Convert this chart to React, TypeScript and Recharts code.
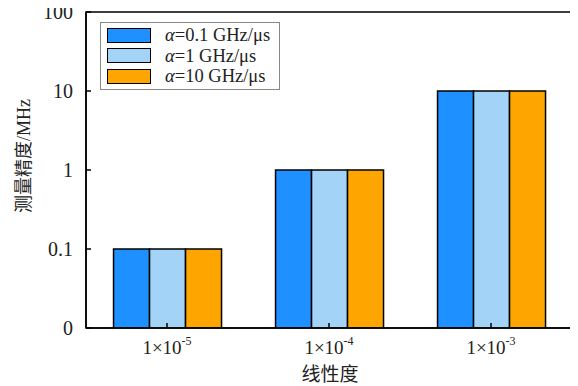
import React from 'react';
import { BarChart, Bar, XAxis, YAxis, ReferenceArea } from 'recharts';

const categories = ['-5', '-4', '-3'];
const slow = [0.1, 1, 10];
const mid = [0.1, 1, 10];
const fast = [0.1, 1, 10];
const yTicks = [0.01, 0.1, 1, 10, 100];

const seriesInfo = [
  { key: 'slow', label: '=0.1 GHz/μs', color: '#1E90FF' },
  { key: 'mid', label: '=1 GHz/μs', color: '#A3D3F6' },
  { key: 'fast', label: '=10 GHz/μs', color: '#FFA500' },
];

const data = categories.map((c, i) => ({ exp: c, slow: slow[i], mid: mid[i], fast: fast[i] }));

const FONT = '"Liberation Serif", "Noto Sans CJK SC", serif';

const XTick = (props: any) => {
  const { x, y, payload } = props;
  return (
    <g>
      <line x1={x} x2={x} y1={y} y2={y - 5} stroke="#000" strokeWidth={1.5} />
      <text x={x} y={y + 26} textAnchor="middle" fontFamily={FONT} fontSize={19} fill="#222">
        <tspan>1×10</tspan>
        <tspan dy={-9} fontSize={12}>{payload.value}</tspan>
      </text>
    </g>
  );
};

const yFmt = (v: number) => (v <= 0.01 ? '0' : String(v));

const LegendBox = () => (
  <div
    style={{
      position: 'absolute',
      left: 100,
      top: 22,
      border: '1px solid #888',
      background: '#fff',
      padding: '2px 9px 2px 6px',
      fontFamily: FONT,
      fontSize: 18.5,
      color: '#222',
      lineHeight: '20.5px',
    }}
  >
    {seriesInfo.map((s) => (
      <div key={s.key} style={{ display: 'flex', alignItems: 'center' }}>
        <span
          style={{
            display: 'inline-block',
            width: 42,
            height: 13,
            background: s.color,
            border: '1.5px solid #000',
            marginRight: 14,
          }}
        />
        <span>
          <i>α</i>
          {s.label}
        </span>
      </div>
    ))}
  </div>
);

export default function App() {
  return (
    <div
      style={{
        position: 'relative',
        width: 578,
        height: 386,
        margin: '-8px 0 0 -8px',
        background: '#fff',
        overflow: 'hidden',
      }}
    >
      <BarChart
        width={578}
        height={386}
        data={data}
        margin={{ top: 12, right: 6, left: 36, bottom: 28 }}
        barGap={0}
        barCategoryGap="17%"
      >
        <XAxis
          dataKey="exp"
          tick={<XTick />}
          tickLine={false}
          tickSize={0}
          tickMargin={0}
          axisLine={{ stroke: '#000', strokeWidth: 1.5 }}
          height={30}
          interval={0}
        />
        <YAxis
          scale="log"
          domain={[0.01, 100]}
          ticks={yTicks}
          tickFormatter={yFmt}
          allowDataOverflow
          width={50}
          tickSize={-5}
          tickMargin={18}
          tickLine={{ stroke: '#000', strokeWidth: 1.5 }}
          axisLine={{ stroke: '#000', strokeWidth: 1.5 }}
          tick={{ fontFamily: FONT, fontSize: 20, fill: '#222' }}
        />
        {seriesInfo.map((s) => (
          <Bar
            key={s.key}
            dataKey={s.key}
            fill={s.color}
            stroke="#000"
            strokeWidth={1.5}
            isAnimationActive={false}
          />
        ))}
        <ReferenceArea
          y1={0.01}
          y2={100}
          fill="none"
          fillOpacity={0}
          stroke="#000"
          strokeWidth={1.5}
          ifOverflow="visible"
        />
      </BarChart>
      <LegendBox />
      <div
        style={{
          position: 'absolute',
          left: 22,
          top: 156,
          transform: 'translate(-50%, -50%) rotate(-90deg)',
          whiteSpace: 'nowrap',
          fontFamily: FONT,
          fontSize: 18,
          color: '#222',
        }}
      >
        测量精度/MHz
      </div>
      <div
        style={{
          position: 'absolute',
          left: 330,
          top: 375,
          transform: 'translate(-50%, -50%)',
          whiteSpace: 'nowrap',
          fontFamily: FONT,
          fontSize: 19,
          lineHeight: '20px',
          color: '#222',
        }}
      >
        线性度
      </div>
    </div>
  );
}
